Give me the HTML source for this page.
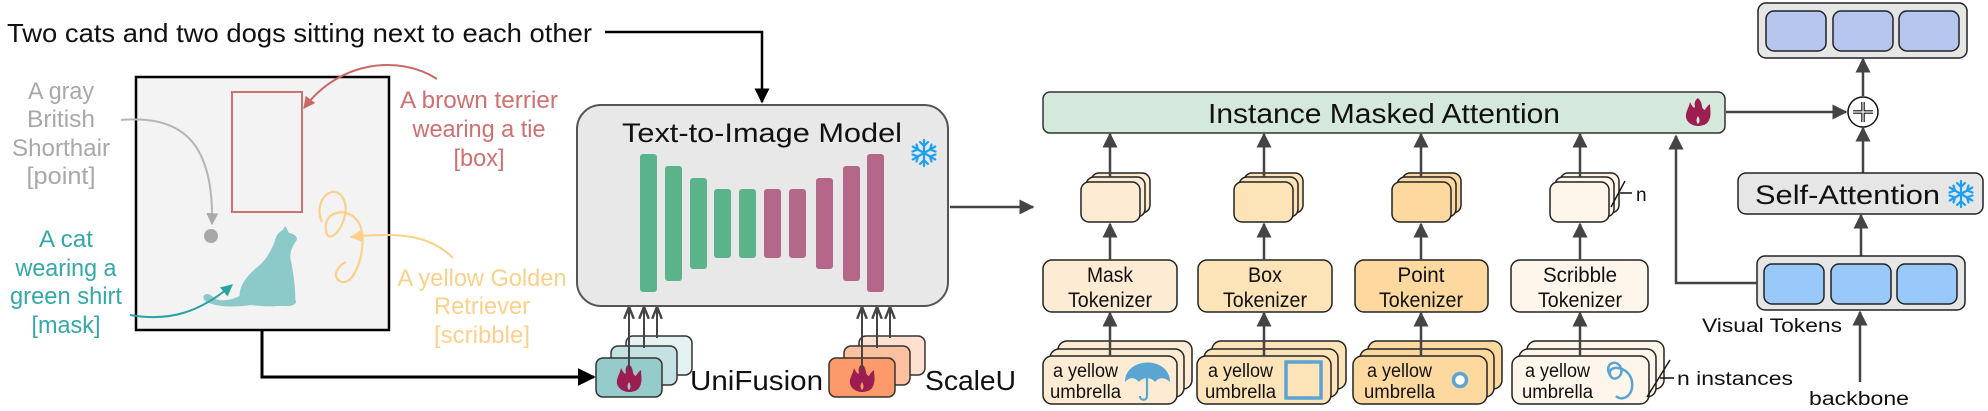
<!DOCTYPE html>
<html><head><meta charset="utf-8"><style>
html,body{margin:0;padding:0;background:#fff;}
svg{display:block;}
text{font-family:"Liberation Sans","DejaVu Sans",sans-serif;}
</style></head><body>
<svg width="1988" height="411" viewBox="0 0 1988 411" xmlns="http://www.w3.org/2000/svg">
<defs>
<marker id="ah" viewBox="0 0 10 10" refX="9" refY="5" markerWidth="6" markerHeight="6" orient="auto-start-reverse"><path d="M0,0 L10,5 L0,10 z" fill="#444"/></marker>
<marker id="ahb" viewBox="0 0 10 10" refX="9" refY="5" markerWidth="6" markerHeight="6" orient="auto"><path d="M0,0 L10,5 L0,10 z" fill="#000"/></marker>
<marker id="ahs" viewBox="0 0 10 10" refX="9" refY="5" markerWidth="6" markerHeight="6" orient="auto"><path d="M0,1 L10,5 L0,9" fill="none" stroke="#444" stroke-width="2"/></marker>
<marker id="ahr" viewBox="0 0 10 10" refX="9" refY="5" markerWidth="6" markerHeight="6" orient="auto"><path d="M0,0 L10,5 L0,10 z" fill="#c86a6a"/></marker>
<marker id="ahg" viewBox="0 0 10 10" refX="9" refY="5" markerWidth="6" markerHeight="6" orient="auto"><path d="M0,0 L10,5 L0,10 z" fill="#aaa"/></marker>
<marker id="aht" viewBox="0 0 10 10" refX="9" refY="5" markerWidth="6" markerHeight="6" orient="auto"><path d="M0,0 L10,5 L0,10 z" fill="#2aa3a3"/></marker>
<marker id="ahy" viewBox="0 0 10 10" refX="9" refY="5" markerWidth="6" markerHeight="6" orient="auto"><path d="M0,0 L10,5 L0,10 z" fill="#fdd08a"/></marker>
<g id="flame"><path d="M0,-14 C6,-8 2,-4 7,-2 C9,-6 11,-7 12,-8 C12,-2 14,4 10,10 C8,13 3,14 0,14 C-4,14 -10,12 -12,6 C-13,0 -9,-4 -8,-10 C-6,-6 -4,-3 -3,-5 C-4,-9 -3,-12 0,-14 Z M0,4 C-2,7 -2,10 0,12 C2,10 2,7 0,4Z" fill="#9c1d50" fill-rule="evenodd"/></g>
<g id="snow" stroke="#1ea0f0" stroke-width="2.2" fill="none" stroke-linecap="round">
<path d="M0,-13 V13 M-11.3,-6.5 L11.3,6.5 M-11.3,6.5 L11.3,-6.5"/>
<path d="M-4,-11 L0,-7 L4,-11 M-4,11 L0,7 L4,11 M-11.5,-1.5 L-6,-3.5 L-7.5,-8.5 M11.5,1.5 L6,3.5 L7.5,8.5 M-11.5,1.5 L-6,3.5 L-7.5,8.5 M11.5,-1.5 L6,-3.5 L7.5,-8.5"/>
</g>
</defs>

<text x="7" y="42" font-size="26" fill="#111" textLength="585" lengthAdjust="spacingAndGlyphs">Two cats and two dogs sitting next to each other</text>
<path d="M605,32 H762 V102" fill="none" stroke="#000" stroke-width="2.5" marker-end="url(#ahb)"/>

<rect x="136" y="77" width="253" height="253" fill="#f3f3f3" stroke="#000" stroke-width="2.5"/>
<rect x="232" y="92" width="70" height="120" fill="none" stroke="#d07070" stroke-width="2"/>
<circle cx="211" cy="236" r="7" fill="#a8a8a8"/>
<path transform="matrix(1.27 0 0 1 16 0)" d="M210,230 L212,226 L215,233 C220,234 223,238 220,242 C218,246 216,250 216,258 C218,270 220,285 220,300 C222,303 218,307 212,306 L205,306 C200,307 192,306 185,305 C175,307 160,308 150,302 C144,297 150,290 155,297 C160,303 170,300 176,296 C176,285 182,275 192,265 C198,258 202,248 204,240 C205,235 207,232 210,230 Z" fill="#8ccaca"/>
<path d="M322,222 C312,200 335,180 344,200 C352,220 328,250 326,230 C323,210 350,205 360,225 C368,245 356,285 342,282 C330,278 338,265 346,262" fill="none" stroke="#fdd08a" stroke-width="2.2"/>
<path d="M121,120 C180,115 214,140 212,224" fill="none" stroke="#b5b5b5" stroke-width="2" marker-end="url(#ahg)"/>
<path d="M437,79 C400,55 340,60 304,108" fill="none" stroke="#c86a6a" stroke-width="2" marker-end="url(#ahr)"/>
<path d="M130,315 C170,322 200,312 232,285" fill="none" stroke="#2aa3a3" stroke-width="2" marker-end="url(#aht)"/>
<path d="M453,258 C430,235 400,232 351,237" fill="none" stroke="#fdd08a" stroke-width="2" marker-end="url(#ahy)"/>
<g font-size="24" text-anchor="middle">
<text x="61" y="99" fill="#a8a8a8" textLength="66" lengthAdjust="spacingAndGlyphs">A gray</text>
<text x="61" y="127" fill="#a8a8a8" textLength="68" lengthAdjust="spacingAndGlyphs">British</text>
<text x="61" y="156" fill="#a8a8a8" textLength="98" lengthAdjust="spacingAndGlyphs">Shorthair</text>
<text x="61" y="184" fill="#a8a8a8" textLength="69" lengthAdjust="spacingAndGlyphs">[point]</text>
<text x="66" y="247" fill="#34a8a8" textLength="54" lengthAdjust="spacingAndGlyphs">A cat</text>
<text x="66" y="276" fill="#34a8a8" textLength="101" lengthAdjust="spacingAndGlyphs">wearing a</text>
<text x="66" y="304" fill="#34a8a8" textLength="112" lengthAdjust="spacingAndGlyphs">green shirt</text>
<text x="66" y="333" fill="#34a8a8" textLength="69" lengthAdjust="spacingAndGlyphs">[mask]</text>
<text x="479" y="108" fill="#d07070" textLength="158" lengthAdjust="spacingAndGlyphs">A brown terrier</text>
<text x="479" y="137" fill="#d07070" textLength="133" lengthAdjust="spacingAndGlyphs">wearing a tie</text>
<text x="479" y="166" fill="#d07070" textLength="51" lengthAdjust="spacingAndGlyphs">[box]</text>
<text x="482" y="286" fill="#fdd08a" textLength="169" lengthAdjust="spacingAndGlyphs">A yellow Golden</text>
<text x="482" y="314" fill="#fdd08a" textLength="96" lengthAdjust="spacingAndGlyphs">Retriever</text>
<text x="482" y="343" fill="#fdd08a" textLength="96" lengthAdjust="spacingAndGlyphs">[scribble]</text>
</g>
<path d="M262,330 V377 H594" fill="none" stroke="#000" stroke-width="3" marker-end="url(#ahb)"/>

<rect x="577" y="105" width="371" height="201" rx="24" fill="#e8e8e8" stroke="#555" stroke-width="2"/>
<text x="622" y="142" font-size="27" fill="#111" textLength="280" lengthAdjust="spacingAndGlyphs">Text-to-Image Model</text>
<use href="#snow" x="924" y="153"/>
<g fill="#5ab38a">
<rect x="640" y="154" width="17" height="138" rx="3"/>
<rect x="665" y="166" width="17" height="115" rx="3"/>
<rect x="690" y="178" width="17" height="91" rx="3"/>
<rect x="714" y="189" width="17" height="69" rx="3"/>
<rect x="739" y="189" width="17" height="69" rx="3"/>
</g>
<g fill="#b5678a">
<rect x="764" y="189" width="17" height="69" rx="3"/>
<rect x="789" y="189" width="17" height="69" rx="3"/>
<rect x="816" y="178" width="17" height="91" rx="3"/>
<rect x="843" y="166" width="17" height="115" rx="3"/>
<rect x="867" y="154" width="17" height="138" rx="3"/>
</g>
<line x1="950" y1="207" x2="1033" y2="207" stroke="#444" stroke-width="2.5" marker-end="url(#ah)"/>

<rect x="626" y="336" width="66" height="39" rx="7" fill="#e4f2f2" stroke="#333" stroke-width="1.5"/>
<rect x="611" y="346" width="66" height="39" rx="7" fill="#c4e2e2" stroke="#333" stroke-width="1.5"/>
<rect x="596" y="358" width="66" height="39" rx="7" fill="#96cbcb" stroke="#333" stroke-width="1.5"/>
<use href="#flame" x="629" y="378"/>
<g stroke="#444" stroke-width="2" marker-end="url(#ahs)">
<line x1="629" y1="370" x2="629" y2="308"/><line x1="644" y1="348" x2="644" y2="308"/><line x1="657" y1="338" x2="657" y2="308"/>
</g>
<text x="690" y="390" font-size="28" fill="#111" textLength="133" lengthAdjust="spacingAndGlyphs">UniFusion</text>
<rect x="859" y="336" width="66" height="39" rx="7" fill="#fde0d0" stroke="#333" stroke-width="1.5"/>
<rect x="844" y="346" width="66" height="39" rx="7" fill="#fdc0a0" stroke="#333" stroke-width="1.5"/>
<rect x="829" y="358" width="66" height="39" rx="7" fill="#fd9a6a" stroke="#333" stroke-width="1.5"/>
<use href="#flame" x="862" y="378"/>
<g stroke="#444" stroke-width="2" marker-end="url(#ahs)">
<line x1="862" y1="370" x2="862" y2="308"/><line x1="877" y1="348" x2="877" y2="308"/><line x1="890" y1="338" x2="890" y2="308"/>
</g>
<text x="925" y="390" font-size="28" fill="#111" textLength="91" lengthAdjust="spacingAndGlyphs">ScaleU</text>

<rect x="1043" y="92" width="682" height="41" rx="7" fill="#d4e8dc" stroke="#333" stroke-width="1.5"/>
<text x="1208" y="123" font-size="28" fill="#111" textLength="352" lengthAdjust="spacingAndGlyphs">Instance Masked Attention</text>
<use href="#flame" x="1698" y="112"/>
<line x1="1726" y1="112" x2="1846" y2="112" stroke="#444" stroke-width="2.5" marker-end="url(#ah)"/>

<g stroke="#222" stroke-width="1.5">
<g fill="#fdebd3">
<rect x="1091" y="173" width="59" height="40" rx="8"/><rect x="1086" y="177" width="59" height="40" rx="8"/><rect x="1081" y="182" width="59" height="40" rx="8"/>
<rect x="1043" y="260" width="134" height="52" rx="9"/>
<rect x="1058" y="341" width="134" height="48" rx="9"/><rect x="1050" y="349" width="134" height="48" rx="9"/><rect x="1043" y="356" width="134" height="48" rx="9"/>
</g>
<g fill="#fde3b8">
<rect x="1244" y="173" width="59" height="40" rx="8"/><rect x="1239" y="177" width="59" height="40" rx="8"/><rect x="1234" y="182" width="59" height="40" rx="8"/>
<rect x="1198" y="260" width="134" height="52" rx="9"/>
<rect x="1212" y="341" width="134" height="48" rx="9"/><rect x="1204" y="349" width="134" height="48" rx="9"/><rect x="1197" y="356" width="134" height="48" rx="9"/>
</g>
<g fill="#fdd9a0">
<rect x="1402" y="173" width="59" height="40" rx="8"/><rect x="1397" y="177" width="59" height="40" rx="8"/><rect x="1392" y="182" width="59" height="40" rx="8"/>
<rect x="1355" y="260" width="133" height="52" rx="9"/>
<rect x="1368" y="341" width="134" height="48" rx="9"/><rect x="1360" y="349" width="134" height="48" rx="9"/><rect x="1353" y="356" width="134" height="48" rx="9"/>
</g>
<g fill="#fef6ea">
<rect x="1560" y="173" width="59" height="40" rx="8"/><rect x="1555" y="177" width="59" height="40" rx="8"/><rect x="1550" y="182" width="59" height="40" rx="8"/>
<rect x="1511" y="260" width="137" height="52" rx="9"/>
<rect x="1527" y="341" width="137" height="48" rx="9"/><rect x="1519" y="349" width="137" height="48" rx="9"/><rect x="1512" y="356" width="137" height="48" rx="9"/>
</g>
</g>
<g stroke="#444" stroke-width="2.5" marker-end="url(#ah)">
<line x1="1110" y1="356" x2="1110" y2="313"/><line x1="1110" y1="260" x2="1110" y2="224"/><line x1="1110" y1="177" x2="1110" y2="134"/>
<line x1="1264" y1="356" x2="1264" y2="313"/><line x1="1264" y1="260" x2="1264" y2="224"/><line x1="1264" y1="177" x2="1264" y2="134"/>
<line x1="1421" y1="356" x2="1421" y2="313"/><line x1="1421" y1="260" x2="1421" y2="224"/><line x1="1421" y1="177" x2="1421" y2="134"/>
<line x1="1580" y1="356" x2="1580" y2="313"/><line x1="1580" y1="260" x2="1580" y2="224"/><line x1="1580" y1="177" x2="1580" y2="134"/>
</g>
<g font-size="21" text-anchor="middle" fill="#111">
<text x="1110" y="282" textLength="46" lengthAdjust="spacingAndGlyphs">Mask</text><text x="1110" y="307" textLength="84" lengthAdjust="spacingAndGlyphs">Tokenizer</text>
<text x="1265" y="282" textLength="34" lengthAdjust="spacingAndGlyphs">Box</text><text x="1265" y="307" textLength="84" lengthAdjust="spacingAndGlyphs">Tokenizer</text>
<text x="1421" y="282" textLength="47" lengthAdjust="spacingAndGlyphs">Point</text><text x="1421" y="307" textLength="84" lengthAdjust="spacingAndGlyphs">Tokenizer</text>
<text x="1580" y="282" textLength="74" lengthAdjust="spacingAndGlyphs">Scribble</text><text x="1580" y="307" textLength="84" lengthAdjust="spacingAndGlyphs">Tokenizer</text>
</g>
<g font-size="19" fill="#111">
<text x="1053" y="377" textLength="65" lengthAdjust="spacingAndGlyphs">a yellow</text><text x="1050" y="398" textLength="71" lengthAdjust="spacingAndGlyphs">umbrella</text>
<text x="1208" y="377" textLength="65" lengthAdjust="spacingAndGlyphs">a yellow</text><text x="1205" y="398" textLength="71" lengthAdjust="spacingAndGlyphs">umbrella</text>
<text x="1367" y="377" textLength="65" lengthAdjust="spacingAndGlyphs">a yellow</text><text x="1364" y="398" textLength="71" lengthAdjust="spacingAndGlyphs">umbrella</text>
<text x="1525" y="377" textLength="65" lengthAdjust="spacingAndGlyphs">a yellow</text><text x="1522" y="398" textLength="71" lengthAdjust="spacingAndGlyphs">umbrella</text>
</g>
<path d="M1125,382 C1125,356 1170,356 1170,382 C1165,377 1159,377 1155,382 C1152,377 1142,377 1139,382 C1135,377 1129,377 1125,382 Z" fill="#5aa5d2"/>
<path d="M1147,378 V396 C1147,401 1140,401 1140,396" fill="none" stroke="#5aa5d2" stroke-width="2.2"/>
<rect x="1286" y="362" width="35" height="36" fill="none" stroke="#5aa5d2" stroke-width="3.5"/>
<circle cx="1460" cy="380" r="6.5" fill="#fff" stroke="#5aa5d2" stroke-width="3.5"/>
<path d="M1612,378 C1602,366 1614,358 1620,366 C1626,376 1612,384 1610,374 C1608,364 1630,366 1632,382 C1634,396 1622,402 1616,396" fill="none" stroke="#5aa5d2" stroke-width="2.5"/>
<path d="M1611,207 L1625,181 M1620,193 H1632" stroke="#111" stroke-width="1.4" fill="none"/>
<text x="1636" y="201" font-size="19" fill="#111">n</text>
<path d="M1647,397 L1670,360 M1660,378 H1674" stroke="#111" stroke-width="1.4" fill="none"/>
<text x="1677" y="385" font-size="19" fill="#111" textLength="116" lengthAdjust="spacingAndGlyphs">n instances</text>

<rect x="1758" y="3" width="209" height="55" rx="8" fill="#e6e6e6" stroke="#222" stroke-width="1.5"/>
<rect x="1766" y="11" width="60" height="40" rx="8" fill="#b6c6ee" stroke="#222" stroke-width="1.5"/>
<rect x="1833" y="11" width="60" height="40" rx="8" fill="#b6c6ee" stroke="#222" stroke-width="1.5"/>
<rect x="1899" y="11" width="60" height="40" rx="8" fill="#b6c6ee" stroke="#222" stroke-width="1.5"/>
<circle cx="1863" cy="112" r="15" fill="#fff" stroke="#111" stroke-width="1.5"/>
<path d="M1863,102 V122 M1853,112 H1873" stroke="#111" stroke-width="3.5"/>
<path d="M1863,102 V122 M1853,112 H1873" stroke="#fff" stroke-width="1.2"/>
<line x1="1863" y1="96" x2="1863" y2="59" stroke="#444" stroke-width="2.5" marker-end="url(#ah)"/>
<line x1="1863" y1="173" x2="1863" y2="128" stroke="#444" stroke-width="2.5" marker-end="url(#ah)"/>
<rect x="1738" y="173" width="245" height="41" rx="8" fill="#e6e6e6" stroke="#222" stroke-width="1.5"/>
<text x="1755" y="204" font-size="27" fill="#111" textLength="185" lengthAdjust="spacingAndGlyphs">Self-Attention</text>
<use href="#snow" x="1961" y="194"/>
<line x1="1861" y1="256" x2="1861" y2="215" stroke="#444" stroke-width="2.5" marker-end="url(#ah)"/>
<rect x="1757" y="256" width="208" height="54" rx="8" fill="#e6e6e6" stroke="#222" stroke-width="1.5"/>
<rect x="1764" y="264" width="60" height="40" rx="8" fill="#99c8fb" stroke="#222" stroke-width="1.5"/>
<rect x="1831" y="264" width="60" height="40" rx="8" fill="#99c8fb" stroke="#222" stroke-width="1.5"/>
<rect x="1897" y="264" width="60" height="40" rx="8" fill="#99c8fb" stroke="#222" stroke-width="1.5"/>
<path d="M1757,283 H1676 V136" fill="none" stroke="#444" stroke-width="2.5" marker-end="url(#ah)"/>
<text x="1702" y="332" font-size="19" fill="#111" textLength="140" lengthAdjust="spacingAndGlyphs">Visual Tokens</text>
<line x1="1860" y1="382" x2="1860" y2="312" stroke="#444" stroke-width="2.5" marker-end="url(#ah)"/>
<text x="1809" y="405" font-size="19" fill="#111" textLength="100" lengthAdjust="spacingAndGlyphs">backbone</text>
</svg>
</body></html>
